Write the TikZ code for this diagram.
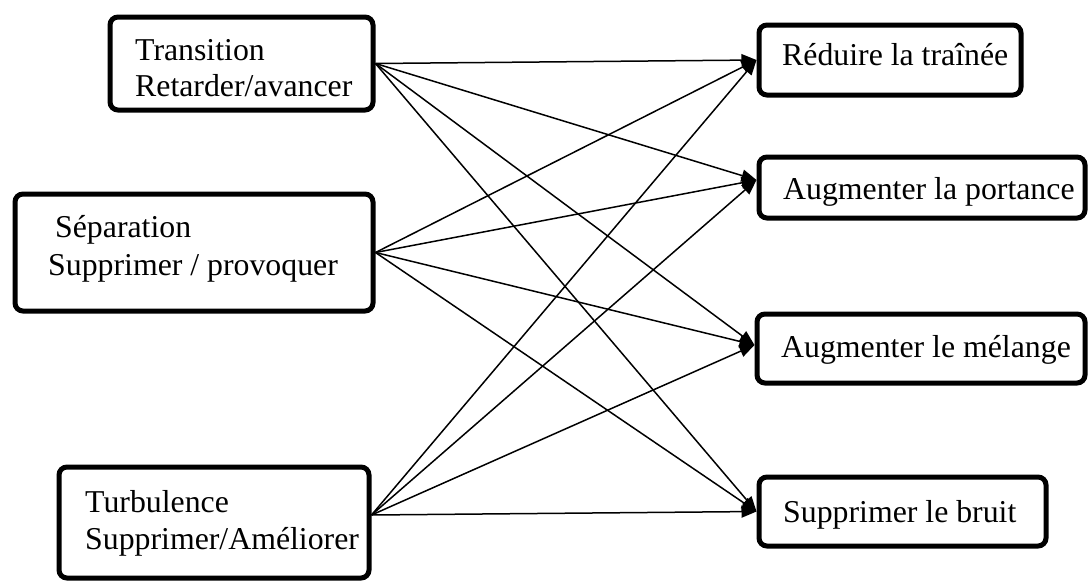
\documentclass[tikz,border=0pt]{standalone}
\usepackage{fontspec}
\setmainfont{Liberation Serif}
\usetikzlibrary{arrows.meta}

\tikzset{
  box/.style={draw, rectangle, rounded corners=8pt, line width=5pt,
              inner sep=0pt, fill=white},
  lbl/.style={anchor=base west, inner sep=0pt,
               font=\fontsize{31.8}{37}\selectfont},
  link/.style={line width=1.5pt, -{Triangle[length=15pt,width=12pt]}}
}

\begin{document}
\begin{tikzpicture}[x=1pt,y=-1pt]
\useasboundingbox (0,0) rectangle (1088,582);

% phenomena (left column)
\node[box, minimum width=263pt, minimum height=93pt]  (L1) at (241.5,63.5) {};
\node[box, minimum width=358pt, minimum height=117pt] (L2) at (194,252.5) {};
\node[box, minimum width=310pt, minimum height=111pt] (L3) at (214,522.5) {};

% objectives (right column)
\node[box, minimum width=262pt, minimum height=70pt] (R1) at (890,60) {};
\node[box, minimum width=326pt, minimum height=61pt] (R2) at (922,187.5) {};
\node[box, minimum width=328pt, minimum height=69pt] (R3) at (921,348.5) {};
\node[box, minimum width=287pt, minimum height=69pt] (R4) at (902.5,511.5) {};

% labels
\node[lbl] (t1a) at (135,60) {Transition};
\node[lbl] (t1b) at (135,96) {Retarder/avancer};
\node[lbl] (t2a) at (55,237) {Séparation};
\node[lbl] (t2b) at (48,275) {Supprimer / provoquer};
\node[lbl] (t3a) at (85,512) {Turbulence};
\node[lbl] (t3b) at (85,549) {Supprimer/Améliorer};

\node[lbl] (u1) at (782,65)  {Réduire la traînée};
\node[lbl] (u2) at (783,199) {Augmenter la portance};
\node[lbl] (u3) at (781,357) {Augmenter le mélange};
\node[lbl] (u4) at (783,522) {Supprimer le bruit};

% connection points
\coordinate (s1) at (L1.east);
\coordinate (s2) at (L2.east);
\coordinate (s3) at ([yshift=7.5pt]L3.east);
\coordinate (e1) at (R1.west);
\coordinate (e2) at ([yshift=7.5pt]R2.west);
\coordinate (e3) at ([yshift=3.5pt]R3.west);
\coordinate (e4) at (R4.west);

% every phenomenon acts on every objective
\foreach \s in {s1,s2,s3}
  \foreach \e in {e1,e2,e3,e4}
    \draw[link] (\s) -- (\e);

\end{tikzpicture}
\end{document}
